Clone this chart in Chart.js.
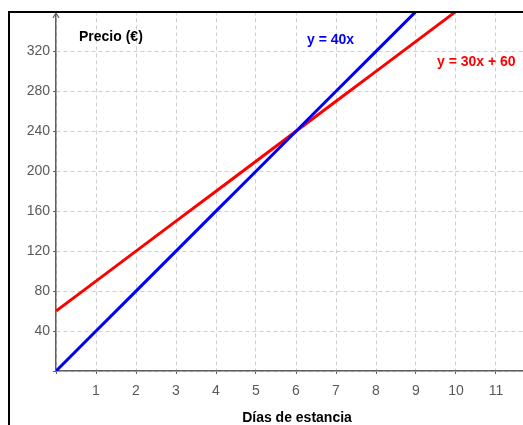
<!DOCTYPE html>
<html>
<head>
<meta charset="utf-8">
<script src="https://cdn.jsdelivr.net/npm/chart.js@4.4.0/dist/chart.umd.min.js"></script>
<style>
  html, body { margin: 0; padding: 0; background: #fff; }
  #chart { display: block; }
</style>
</head>
<body>
<canvas id="chart" width="523" height="425"></canvas>
<script>
// days of stay and price for each offer
const dias = [0, 1, 2, 3, 4, 5, 6, 7, 8, 9, 10, 11, 12];
const precio40x = [0, 40, 80, 120, 160, 200, 240, 280, 320, 360, 400, 440, 480];
const precio30x60 = [60, 90, 120, 150, 180, 210, 240, 270, 300, 330, 360, 390, 420];
const nombreSeries = ['y = 40x', 'y = 30x + 60'];
const tituloY = 'Precio (€)';
const tituloX = 'Días de estancia';

const FONT = 'Liberation Sans, Arial, sans-serif';
Chart.defaults.font.family = FONT;
Chart.defaults.font.size = 14;
Chart.defaults.color = '#5a5a5a';

// frame, arrow on y axis and the text labels
const extras = {
    id: 'extras',
    afterDraw(chart) {
        const ctx = chart.ctx;
        const a = chart.chartArea;
        ctx.save();
        // y axis arrow
        ctx.strokeStyle = '#606060';
        ctx.lineWidth = 1.2;
        ctx.beginPath();
        ctx.moveTo(a.left - 3, 18);
        ctx.lineTo(a.left, 13);
        ctx.lineTo(a.left + 3, 18);
        ctx.stroke();
        // frame
        ctx.strokeStyle = '#000';
        ctx.lineWidth = 2;
        ctx.beginPath();
        ctx.moveTo(9, 425);
        ctx.lineTo(9, 12);
        ctx.lineTo(523, 12);
        ctx.stroke();
        // texts
        ctx.font = 'bold 14px ' + FONT;
        ctx.textBaseline = 'middle';
        ctx.textAlign = 'left';
        ctx.fillStyle = '#000';
        ctx.fillText(tituloY, 79, 37);
        ctx.fillStyle = '#0000ff';
        ctx.fillText(nombreSeries[0], 307, 40);
        ctx.fillStyle = '#ff0000';
        ctx.fillText(nombreSeries[1], 437, 62);
        ctx.fillStyle = '#000';
        ctx.textAlign = 'center';
        ctx.fillText(tituloX, 297, 418);
        ctx.restore();
    }
};

new Chart(document.getElementById('chart'), {
    type: 'line',
    data: {
        datasets: [{
            label: nombreSeries[0],
            data: dias.map((d, i) => ({x: d, y: precio40x[i]})),
            borderColor: '#0000ff',
            borderWidth: 3,
            pointRadius: 0
        }, {
            label: nombreSeries[1],
            data: dias.map((d, i) => ({x: d, y: precio30x60[i]})),
            borderColor: '#ff0000',
            borderWidth: 3,
            pointRadius: 0
        }]
    },
    options: {
        responsive: false,
        animation: false,
        layout: { padding: { top: 11, left: 0, right: 0, bottom: 0 } },
        plugins: {
            legend: { display: false },
            tooltip: { enabled: false }
        },
        scales: {
            x: {
                type: 'linear',
                min: 0,
                max: 11.675,
                afterFit: (scale) => { scale.height = 54; },
                ticks: {
                    stepSize: 1,
                    includeBounds: false,
                    padding: 9,
                    maxRotation: 0,
                    callback: (v) => (v === 0 ? '' : v)
                },
                grid: {
                    color: '#cfcfcf',
                    tickLength: 3,
                    tickColor: '#606060',
                    tickBorderDash: []
                },
                border: { color: '#606060', width: 1.5, dash: [4, 3] }
            },
            y: {
                min: 0,
                max: 360,
                afterFit: (scale) => { scale.width = 56; },
                ticks: {
                    stepSize: 40,
                    padding: 3,
                    callback: (v) => (v === 0 || v === 360 ? '' : v)
                },
                grid: {
                    color: '#cfcfcf',
                    tickLength: 3,
                    tickColor: '#606060',
                    tickBorderDash: []
                },
                border: { color: '#606060', width: 1.5, dash: [4, 3] }
            }
        }
    },
    plugins: [extras]
});
</script>
</body>
</html>
